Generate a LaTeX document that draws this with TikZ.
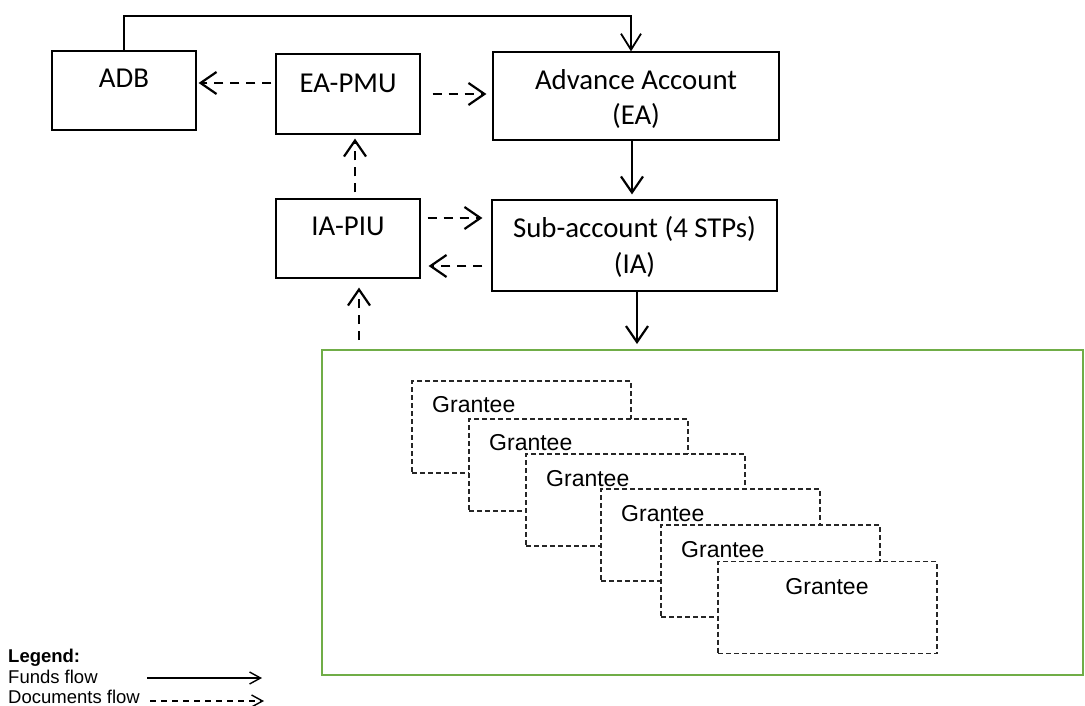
\documentclass[tikz,border=0pt]{standalone}
\usepackage{fontspec}
\setmainfont{Carlito}
\newfontfamily\arialf{Liberation Sans}
\usetikzlibrary{arrows.meta}
\definecolor{grpgreen}{RGB}{112,173,71}

\begin{document}
\begin{tikzpicture}[x=1pt,y=-1pt,
  box/.style={draw=black, line width=1.2pt, fill=white, inner sep=0pt},
  lbl/.style={anchor=base, inner sep=0pt, font=\fontsize{28.8}{34}\selectfont},
  fund/.style={line width=2.2pt, -{Straight Barb[length=16pt,width=22pt,line width=2.2pt]}},
  fundthin/.style={line width=1.2pt, -{Straight Barb[length=16pt,width=20pt,line width=1.8pt]}},
  doc/.style={fund, dash pattern=on 9pt off 7pt},
  grantee/.style={draw=black!85, line width=1.1pt, dash pattern=on 5pt off 3pt, fill=white,
    inner sep=0pt, minimum width=219pt, minimum height=92pt},
  glbl/.style={anchor=base west, inner sep=0pt, font=\arialf\fontsize{23}{27}\selectfont},
  leglbl/.style={anchor=base west, inner sep=0pt, font=\arialf\fontsize{18.5}{20}\selectfont},
  legf/.style={line width=1.4pt, -{Straight Barb[length=11pt,width=12pt,line width=1.4pt]}},
  legd/.style={legf, dash pattern=on 6pt off 5pt},
]
\useasboundingbox (0,0) rectangle (1085,706);

% main boxes
\node[box, minimum width=144pt, minimum height=79pt] (adb) at (124,90.5) {};
\node[box, minimum width=144pt, minimum height=80pt] (pmu) at (348,94) {};
\node[box, minimum width=286pt, minimum height=88pt] (adv) at (636,96) {};
\node[box, minimum width=144pt, minimum height=79pt] (piu) at (348,238.5) {};
\node[box, minimum width=285pt, minimum height=91pt] (sub) at (634.5,245.5) {};

\node[lbl] (adbt) at (124,88) {ADB};
\node[lbl] (pmut) at (348,93) {EA-PMU};
\node[lbl] (advt) at (636,90) {Advance Account};
\node[lbl] (advea) at (636,125) {(EA)};
\node[lbl] (piut) at (348,236) {IA-PIU};
\node[lbl] (subt) at (634.5,237) {Sub-account (4 STPs)};
\node[lbl] (subia) at (634.5,273) {(IA)};

% grantee group
\node[draw=grpgreen, line width=2pt, inner sep=0pt, minimum width=761pt, minimum height=325pt]
  (grp) at (702.5,512.5) {};

\node[grantee] (g1) at (521.5,427) {};
\node[glbl] (g1t) at (432,412) {Grantee};
\node[grantee] (g2) at (578.5,465) {};
\node[glbl] (g2t) at (489,450) {Grantee};
\node[grantee] (g3) at (635.5,500) {};
\node[glbl] (g3t) at (546,486) {Grantee};
\node[grantee] (g4) at (710.5,535) {};
\node[glbl] (g4t) at (621,521) {Grantee};
\node[grantee] (g5) at (770.5,571) {};
\node[glbl] (g5t) at (681,557) {Grantee};
\node[grantee] (g6) at (827.5,607.5) {};
\node[glbl, anchor=base] (g6t) at (827,594) {Grantee};

% funds flow
\coordinate (tr) at (631,16);
\draw[fundthin] (adb.north) |- (tr) -- (tr |- adv.north);
\draw[fund, shorten >=5pt] (adv.south -| 632,0) -- (sub.north -| 632,0);
\draw[fund, shorten >=5pt] (sub.south -| 637,0) -- (grp.north -| 637,0);

% documents flow
\draw[doc, shorten <=4pt, shorten >=2pt] (pmu.west |- 0,83) -- (adb.east |- 0,83);
\draw[doc, shorten <=12pt, shorten >=6pt] (pmu.east |- 0,94) -- (adv.west |- 0,94);
\draw[doc, shorten <=6pt, shorten >=4pt] (piu.north -| 355,0) -- (pmu.south -| 355,0);
\draw[doc, shorten <=7pt, shorten >=9pt] (piu.east |- 0,218) -- (sub.west |- 0,218);
\draw[doc, shorten <=9pt, shorten >=8pt] (sub.west |- 0,266) -- (piu.east |- 0,266);
\draw[doc, shorten <=9pt, shorten >=9pt] (grp.north -| 359,0) -- (piu.south -| 359,0);

% legend
\node[leglbl, font=\arialf\bfseries\fontsize{18.5}{20}\selectfont] (leg) at (8,662) {Legend:};
\node[leglbl] (legfunds) at (8,683) {Funds flow};
\node[leglbl] (legdocs) at (8,703) {Documents flow};
\coordinate (fs) at (147,678);
\coordinate (fe) at (262,678);
\coordinate (ds) at (150,701);
\coordinate (de) at (264,701);
\draw[legf] (fs) -- (fe);
\draw[legd] (ds) -- (de);
\end{tikzpicture}
\end{document}
